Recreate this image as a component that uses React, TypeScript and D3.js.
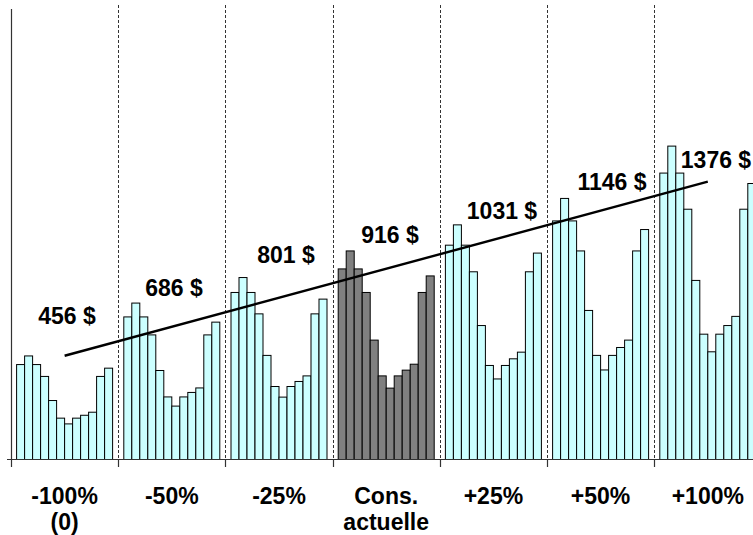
import React from "react";
import * as d3 from "d3";

// ---- Data ----
const groupLabels: string[][] = [["-100%", "(0)"], ["-50%"], ["-25%"], ["Cons.", "actuelle"], ["+25%"], ["+50%"], ["+100%"]];
const annualTotals: number[] = [456, 686, 801, 916, 1031, 1146, 1376];
const months: string[] = ["Jan", "Fév", "Mar", "Avr", "Mai", "Juin", "Juil", "Août", "Sep", "Oct", "Nov", "Déc"];

const minus100: number[] = [52.8, 57.6, 52.8, 46.2, 32.8, 23.0, 19.8, 23.0, 24.6, 26.3, 46.2, 50.8];
const minus50: number[] = [79.3, 87.0, 79.3, 69.3, 49.5, 34.8, 29.7, 34.8, 37.3, 39.8, 69.3, 76.4];
const minus25: number[] = [92.9, 101.2, 92.9, 81.0, 57.9, 40.6, 34.7, 40.6, 43.4, 46.5, 81.0, 89.2];
const current: number[] = [106.0, 116.0, 106.0, 92.9, 66.4, 46.5, 39.7, 46.5, 49.7, 53.0, 92.9, 102.1];
const plus25: number[] = [119.2, 130.5, 119.2, 104.4, 74.5, 52.3, 44.8, 52.3, 56.0, 59.7, 104.4, 114.8];
const plus50: number[] = [132.7, 145.2, 132.7, 116.0, 82.9, 57.9, 49.8, 57.9, 62.3, 66.4, 116.0, 127.9];
const plus100: number[] = [159.3, 174.3, 159.3, 139.2, 99.6, 69.7, 59.9, 69.7, 74.5, 79.6, 139.2, 153.5];

const seriesByGroup: number[][] = [minus100, minus50, minus25, current, plus25, plus50, plus100];
const highlightGroup = 3;

// trend line (value at first and last group centre)
const trendStart = 57.7;
const trendEnd = 154.5;

// ---- Chart ----
export default function App() {
  const W = 753;
  const H = 535;
  const x0 = 11;
  const groupW = 107.2;
  const baseY = 459.5;
  const font = "'Liberation Sans', Arial, sans-serif";

  const gx = d3
    .scaleBand<number>()
    .domain(d3.range(groupLabels.length))
    .range([x0, x0 + groupW * groupLabels.length])
    .padding(0);
  const mx = d3
    .scaleBand<string>()
    .domain(months)
    .range([5.6, groupW - 5.6])
    .padding(0);
  const y = d3.scaleLinear().domain([0, 250]).range([baseY, 10]);

  const gc = (i: number) => (gx(i) as number) + gx.bandwidth() / 2;
  const trend = d3.line<[number, number]>().x((d) => d[0]).y((d) => d[1]);
  const last = groupLabels.length - 1;
  const trendPts: [number, number][] = [
    [gc(0), y(trendStart)],
    [gc(last), y(trendEnd)],
  ];
  const trendAt = (i: number) => y(trendStart + ((trendEnd - trendStart) * i) / last);

  // manual placement of the total labels (as in the original)
  const labelDx = [2.4, 2.2, 7, 3.8, 8.6, 11.4, 8.2];
  const labelDy = [-31.7, -30.7, -34.7, -25.7, -20.7, -20.8, -13.7];

  return (
    <svg
      width={W}
      height={H}
      style={{ position: "absolute", left: 0, top: 0, background: "#fff" }}
    >
      {/* dashed separators */}
      {d3.range(1, groupLabels.length).map((i) => (
        <line
          key={"sep" + i}
          x1={Math.round(gx(i) as number) + 0.5}
          x2={Math.round(gx(i) as number) + 0.5}
          y1={5}
          y2={baseY}
          stroke="#333"
          strokeWidth={1}
          strokeDasharray="3,2"
        />
      ))}

      {/* bars */}
      {seriesByGroup.map((vals, gi) => (
        <g key={"g" + gi} transform={`translate(${gx(gi)},0)`}>
          {vals.map((v, mi) => (
            <rect
              key={mi}
              x={mx(months[mi]) as number}
              y={y(v)}
              width={mx.bandwidth()}
              height={baseY - y(v)}
              fill={gi === highlightGroup ? "#808080" : "#CCFFFF"}
              stroke="#000"
              strokeWidth={1}
            />
          ))}
        </g>
      ))}

      {/* axes */}
      <line x1={x0 + 0.5} x2={x0 + 0.5} y1={9} y2={baseY} stroke="#333" strokeWidth={1.2} />
      <line x1={7} x2={W} y1={baseY} y2={baseY} stroke="#333" strokeWidth={1.2} />
      {d3.range(groupLabels.length).map((i) => (
        <line
          key={"tk" + i}
          x1={Math.round(gx(i) as number) + 0.5}
          x2={Math.round(gx(i) as number) + 0.5}
          y1={baseY}
          y2={baseY + 7.5}
          stroke="#333"
          strokeWidth={1.2}
        />
      ))}

      {/* trend line */}
      <path d={trend(trendPts) as string} stroke="#000" strokeWidth={2.4} fill="none" />

      {/* total labels */}
      {annualTotals.map((t, i) => (
        <text
          key={"lab" + i}
          x={gc(i) + labelDx[i]}
          y={trendAt(i) + labelDy[i]}
          textAnchor="middle"
          fontFamily={font}
          fontWeight="bold"
          fontSize={23}
          fill="#000"
        >
          {`${t} $`}
        </text>
      ))}

      {/* category labels */}
      {groupLabels.map((lines, i) => (
        <text
          key={"cat" + i}
          x={gc(i)}
          y={503.5}
          textAnchor="middle"
          fontFamily={font}
          fontWeight="bold"
          fontSize={23}
          fill="#000"
        >
          {lines.map((l, li) => (
            <tspan key={li} x={gc(i)} dy={li === 0 ? 0 : 26}>
              {l}
            </tspan>
          ))}
        </text>
      ))}
    </svg>
  );
}
